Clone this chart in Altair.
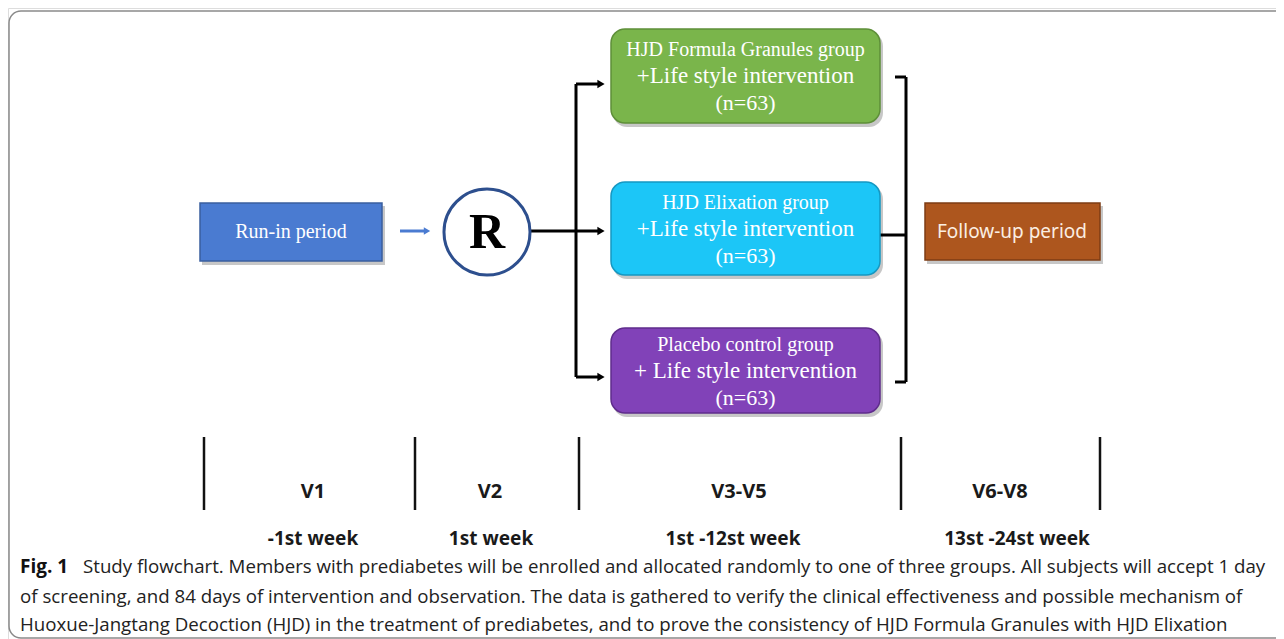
import altair as alt
import pandas as pd

# ---------------- data ----------------
group_names = ["HJD Formula Granules group", "HJD Elixation group", "Placebo control group"]
group_plus = ["+Life style intervention", "+Life style intervention", "+ Life style intervention"]
group_n = [63, 63, 63]
group_colors = ["#7ab54b", "#1cc6f7", "#8142b8"]
group_edges = ["#5e8f39", "#1598c2", "#5f2c8c"]

phase_names = ["Run-in period", "Follow-up period"]
phase_colors = ["#4a7bd1", "#ad561e"]
phase_edges = ["#3a5f9f", "#7d3d14"]

visit_labels = ["V1", "V2", "V3-V5", "V6-V8"]
week_labels = ["-1st week", "1st week", "1st -12st week", "13st -24st week"]

caption_bold = "Fig. 1"
caption_lines = [
    "Study flowchart. Members with prediabetes will be enrolled and allocated randomly to one of three groups. All subjects will accept 1 day",
    "of screening, and 84 days of intervention and observation. The data is gathered to verify the clinical effectiveness and possible mechanism of",
    "Huoxue-Jangtang Decoction (HJD) in the treatment of prediabetes, and to prove the consistency of HJD Formula Granules with HJD Elixation",
]

# ---------------- layout (pixel positions) ----------------
W, H = 1268, 631
X0, Y0 = 8, 8
group_x = (611, 880)
group_y = [(29, 123), (182, 275), (328, 413)]
phase_box = [(200, 382, 203, 261), (925, 1100, 203, 260)]
circle_c = (487, 232)
visit_x = [313, 490, 739, 1000]
week_x = [313, 491, 733, 1017]
divider_x = [204, 415, 579, 901, 1100]

xs = alt.Scale(domain=[X0, X0 + W], nice=False, zero=False)
ys = alt.Scale(domain=[Y0, Y0 + H], nice=False, zero=False, reverse=True)


def X(f):
    return alt.X(f, type="quantitative", scale=xs, axis=None)


def Y(f):
    return alt.Y(f, type="quantitative", scale=ys, axis=None)


# boxes
rbox = pd.DataFrame({
    "x": [group_x[0]] * 3, "x2": [group_x[1]] * 3,
    "y": [g[0] for g in group_y], "y2": [g[1] for g in group_y],
    "fill": group_colors, "edge": group_edges,
})
sbox = pd.DataFrame({
    "x": [b[0] for b in phase_box], "x2": [b[1] for b in phase_box],
    "y": [b[2] for b in phase_box], "y2": [b[3] for b in phase_box],
    "fill": phase_colors, "edge": phase_edges,
})
shadow_r = rbox.assign(x=rbox.x + 2, x2=rbox.x2 + 3, y=rbox.y + 3, y2=rbox.y2 + 4)
shadow_s = sbox.assign(x=sbox.x + 2, x2=sbox.x2 + 3, y=sbox.y + 3, y2=sbox.y2 + 4)

frame = alt.Chart(pd.DataFrame({"x": [9], "x2": [1320], "y": [11], "y2": [638]})).mark_rect(
    cornerRadius=12, fillOpacity=0, stroke="#8a8a8a", strokeWidth=1.5, clip=True
).encode(x=X("x"), x2="x2", y=Y("y"), y2="y2")

sh_r = alt.Chart(shadow_r).mark_rect(cornerRadius=14, color="#000000", opacity=0.22).encode(
    x=X("x"), x2="x2", y=Y("y"), y2="y2")
sh_s = alt.Chart(shadow_s).mark_rect(color="#000000", opacity=0.22).encode(
    x=X("x"), x2="x2", y=Y("y"), y2="y2")

boxes_r = alt.Chart(rbox).mark_rect(cornerRadius=14, strokeWidth=1.5).encode(
    x=X("x"), x2="x2", y=Y("y"), y2="y2",
    fill=alt.Fill("fill:N", scale=None), stroke=alt.Stroke("edge:N", scale=None))
boxes_s = alt.Chart(sbox).mark_rect(strokeWidth=1.5).encode(
    x=X("x"), x2="x2", y=Y("y"), y2="y2",
    fill=alt.Fill("fill:N", scale=None), stroke=alt.Stroke("edge:N", scale=None))

# connector lines
segs = pd.DataFrame([
    # x, x2, y, y2, color, width
    (531, 598, 231, 231, "#000000", 3),
    (576, 576, 84, 377, "#000000", 3),
    (576, 598, 84, 84, "#000000", 3),
    (576, 598, 377, 377, "#000000", 3),
    (906, 906, 77, 382, "#000000", 3),
    (895, 906, 77, 77, "#000000", 3),
    (895, 906, 382, 382, "#000000", 3),
    (880, 906, 235, 235, "#000000", 3),
    (400, 424, 231, 231, "#4a7bd1", 3),
] + [(dx, dx, 437, 510, "#111111", 2.5) for dx in divider_x],
    columns=["x", "x2", "y", "y2", "c", "w"])
rules = alt.Chart(segs).mark_rule().encode(
    x=X("x"), x2="x2", y=Y("y"), y2="y2",
    color=alt.Color("c:N", scale=None), strokeWidth=alt.StrokeWidth("w:Q", scale=None))

heads = pd.DataFrame({"x": [601, 601, 601, 427], "y": [84, 231, 377, 231],
                      "c": ["#000000"] * 3 + ["#4a7bd1"], "s": [70, 70, 70, 55]})
arrows = alt.Chart(heads).mark_point(shape="triangle-right", filled=True, opacity=1).encode(
    x=X("x"), y=Y("y"), color=alt.Color("c:N", scale=None), size=alt.Size("s:Q", scale=None))

circ = alt.Chart(pd.DataFrame({"x": [circle_c[0]], "y": [circle_c[1]]})).mark_circle(
    size=7400, fill="white", opacity=1, stroke="#2d4f8e", strokeWidth=3
).encode(x=X("x"), y=Y("y"))

r_text = alt.Chart(pd.DataFrame({"x": [circle_c[0]], "y": [circle_c[1] + 1], "t": ["R"]})).mark_text(
    font="Liberation Serif", fontWeight="bold", fontSize=50, color="#000000", baseline="middle", align="center"
).encode(x=X("x"), y=Y("y"), text="t:N")

# box texts
cx = (group_x[0] + group_x[1]) / 2
gt_rows = []
for i in range(3):
    y1, y2 = group_y[i]
    mid = (y1 + y2) / 2
    gt_rows.append((cx, mid - 26, group_names[i], 20))
    gt_rows.append((cx, mid + 0, group_plus[i], 23))
    gt_rows.append((cx, mid + 27, f"(n={group_n[i]})", 22))
gtext = alt.Chart(pd.DataFrame(gt_rows, columns=["x", "y", "t", "fs"])).mark_text(
    font="Liberation Serif", color="white", baseline="middle", align="center"
).encode(x=X("x"), y=Y("y"), text="t:N", size=alt.Size("fs:Q", scale=None))

runin = alt.Chart(pd.DataFrame({"x": [291], "y": [232], "t": [phase_names[0]]})).mark_text(
    font="Liberation Serif", color="white", fontSize=20, baseline="middle", align="center"
).encode(x=X("x"), y=Y("y"), text="t:N")
follow = alt.Chart(pd.DataFrame({"x": [1012], "y": [232], "t": [phase_names[1]]})).mark_text(
    font="Noto Sans", color="#fbeee2", fontSize=19, baseline="middle", align="center"
).encode(x=X("x"), y=Y("y"), text="t:N")

visits = alt.Chart(pd.DataFrame({"x": visit_x, "y": [492] * 4, "t": visit_labels})).mark_text(
    font="Noto Sans", fontWeight="bold", fontSize=20, color="#1a1a1a", baseline="middle", align="center"
).encode(x=X("x"), y=Y("y"), text="t:N")
weeks = alt.Chart(pd.DataFrame({"x": week_x, "y": [539] * 4, "t": week_labels})).mark_text(
    font="Noto Sans", fontWeight="bold", fontSize=19, color="#1a1a1a", baseline="middle", align="center"
).encode(x=X("x"), y=Y("y"), text="t:N")

cap_b = alt.Chart(pd.DataFrame({"x": [20], "y": [567], "t": [caption_bold]})).mark_text(
    font="Open Sans", fontWeight="bold", fontSize=19, color="#111111", baseline="middle", align="left"
).encode(x=X("x"), y=Y("y"), text="t:N")
cap = alt.Chart(pd.DataFrame({"x": [83, 20, 20], "y": [567, 597, 625], "t": caption_lines})).mark_text(
    font="Open Sans", fontSize=18.7, color="#222222", baseline="middle", align="left"
).encode(x=X("x"), y=Y("y"), text="t:N")

chart = alt.layer(
    frame, sh_r, sh_s, rules, boxes_r, boxes_s, arrows, circ, r_text,
    gtext, runin, follow, visits, weeks, cap_b, cap
).properties(
    width=W, height=H, padding=0, autosize=alt.AutoSizeParams(type="none")
).configure_view(stroke=None).configure(background="white")

chart.save("out.html", embed_options={"renderer": "svg", "actions": False})
